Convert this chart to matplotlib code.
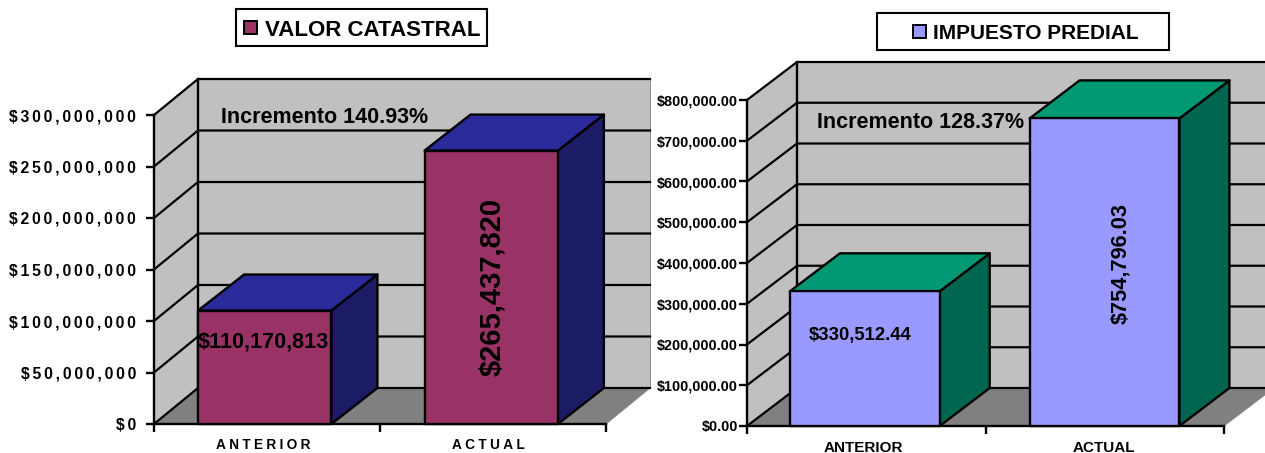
import numpy as np
import matplotlib
matplotlib.use("Agg")
import matplotlib.pyplot as plt
from matplotlib.patches import Polygon, Rectangle

plt.rcParams['font.family'] = ['Liberation Sans', 'DejaVu Sans']
plt.rcParams['font.weight'] = 'bold'

W, H = 1265, 453

categories = ['ANTERIOR', 'ACTUAL']

catastral_values = [110170813, 265437820]
catastral_labels = ['$110,170,813', '$265,437,820']
catastral_ticks = [0, 50000000, 100000000, 150000000, 200000000, 250000000, 300000000]
catastral_ticklabels = ['$0', '$50,000,000', '$100,000,000', '$150,000,000',
                        '$200,000,000', '$250,000,000', '$300,000,000']

predial_values = [330512.44, 754796.03]
predial_labels = ['$330,512.44', '$754,796.03']
predial_ticks = [0, 100000, 200000, 300000, 400000, 500000, 600000, 700000, 800000]
predial_ticklabels = ['$0.00', '$100,000.00', '$200,000.00', '$300,000.00', '$400,000.00',
                      '$500,000.00', '$600,000.00', '$700,000.00', '$800,000.00']


def spaced(text, gap):
    # no letter spacing in matplotlib, so push the glyphs apart with hair spaces
    return (('\u200a' * gap).join(text)) if gap else text


def box_axes(fig, left, right, top, bottom):
    return fig.add_axes([left / W, 1 - bottom / H, (right - left) / W, (bottom - top) / H])


def bar3d(ax, x0, width, value, dx, dy, front, roof, side, lw=1.7):
    x1 = x0 + width
    common = dict(edgecolor='black', linewidth=lw, clip_on=False, zorder=4, joinstyle='round')
    ax.add_patch(Polygon([(x1, 0), (x1 + dx, dy), (x1 + dx, value + dy), (x1, value)],
                         facecolor=side, **common))
    ax.add_patch(Polygon([(x0, value), (x1, value), (x1 + dx, value + dy), (x0 + dx, value + dy)],
                         facecolor=roof, **common))
    ax.add_patch(Rectangle((x0, 0), width, value, facecolor=front, **common))


def chart(ax, ymax, ticks, ticklabels, dx, dy, tick_gap, tick_size, tick_pad,
          cat_pos, cat_gap, cat_size, cat_pad):
    ax.set_xlim(0, 2)
    ax.set_ylim(0, ymax)
    ax.patch.set_visible(False)
    ax.spines['top'].set_visible(False)
    ax.spines['right'].set_visible(False)
    for s in ['left', 'bottom']:
        ax.spines[s].set_linewidth(1.7)
        ax.spines[s].set_zorder(3)

    # back wall, side wall and floor of the box
    ax.add_patch(Polygon([(dx, dy), (2 + dx, dy), (2 + dx, ymax + dy), (dx, ymax + dy)],
                         facecolor='#C0C0C0', edgecolor='#808080', linewidth=0.6,
                         clip_on=False, zorder=0))
    ax.add_patch(Polygon([(0, 0), (dx, dy), (dx, ymax + dy), (0, ymax)],
                         facecolor='#C0C0C0', edgecolor='none', clip_on=False, zorder=0))
    ax.add_patch(Polygon([(0, 0), (2, 0), (2 + dx, dy), (dx, dy)],
                         facecolor='#808080', edgecolor='#808080', linewidth=0.6,
                         clip_on=False, zorder=1))

    for t in ticks:
        ax.plot([0, dx, 2 + dx], [t, t + dy, t + dy], color='black', lw=1.6,
                clip_on=False, zorder=2, solid_joinstyle='miter')
    ax.plot([dx, dx], [dy, ymax + dy], color='black', lw=1.7, clip_on=False, zorder=2)

    ax.set_yticks(ticks, [spaced(t, tick_gap) for t in ticklabels])
    ax.tick_params(axis='y', length=6, width=1.7, pad=tick_pad, labelsize=tick_size)
    ax.set_xticks([0, 1, 2], [])
    ax.tick_params(axis='x', which='major', length=6, width=1.7)
    ax.set_xticks(cat_pos, [spaced(c, cat_gap) for c in categories], minor=True)
    ax.tick_params(axis='x', which='minor', length=0, pad=cat_pad, labelsize=cat_size)


def legend_box(fig, left, right, top, bottom, sw_left, swatch, label, text_left, size):
    fig.add_artist(Rectangle((left / W, 1 - bottom / H), (right - left) / W, (bottom - top) / H,
                             transform=fig.transFigure, facecolor='white',
                             edgecolor='black', linewidth=1.5))
    mid = (top + bottom) / 2
    fig.add_artist(Rectangle((sw_left / W, 1 - (mid + 6.5) / H), 13 / W, 13 / H,
                             transform=fig.transFigure, facecolor=swatch,
                             edgecolor='black', linewidth=1.4))
    fig.text(text_left / W, 1 - mid / H, label, fontsize=size,
             ha='left', va='center_baseline', color='black')


fig = plt.figure(figsize=(W / 100, H / 100), dpi=100, facecolor='white')

# left chart: valor catastral
ax1 = box_axes(fig, 154, 606, 115, 424)
dx1 = 44 / 226
dy1 = 36 / 309 * 300000000
chart(ax1, 300000000, catastral_ticks, catastral_ticklabels, dx1, dy1, 2, 11.3, 7,
      [0.485, 1.48], 3, 9.8, 10)
ax1.set_zorder(1)
for x0, v in zip([0.195, 1.197], catastral_values):
    bar3d(ax1, x0, 0.59, v, 46 / 226, dy1, '#993366', '#2A2A9A', '#1B1B66')
ax1.text(0.296, 298000000, 'Incremento 140.93%', fontsize=15.5, ha='left', va='center', zorder=6)
ax1.text(0.485, 79600000, catastral_labels[0], fontsize=15.6, ha='center', va='center', zorder=6)
ax1.text(1.495, catastral_values[1] / 2, catastral_labels[1], fontsize=21, rotation=90,
         ha='center', va='center', zorder=6)

# right chart: impuesto predial
ax2 = box_axes(fig, 747, 1224, 100, 426)
dx2 = 50 / 238.5
dy2 = 38 / 326 * 800000
chart(ax2, 800000, predial_ticks, predial_ticklabels, dx2, dy2, 0, 10.4, 0.5,
      [0.49, 1.495], 0, 11, 11)
ax2.set_zorder(2)
for x0, v in zip([0.18, 1.185], predial_values):
    bar3d(ax2, x0, 0.628, v, dx2, dy2, '#9999FF', '#009973', '#006650')
ax2.text(0.293, 744000, 'Incremento 128.37%', fontsize=15.5, ha='left', va='center', zorder=6)
ax2.text(0.474, 223000, predial_labels[0], fontsize=13.3, ha='center', va='center', zorder=6)
ax2.text(1.568, 400000, predial_labels[1], fontsize=15.7, rotation=90,
         ha='center', va='center', zorder=6)

legend_box(fig, 236, 487, 9, 46, 244, '#993366', 'VALOR CATASTRAL', 265, 16)
legend_box(fig, 877, 1169, 13, 50, 913, '#9999FF', 'IMPUESTO PREDIAL', 933, 15)

fig.savefig('out.png', dpi=100)
